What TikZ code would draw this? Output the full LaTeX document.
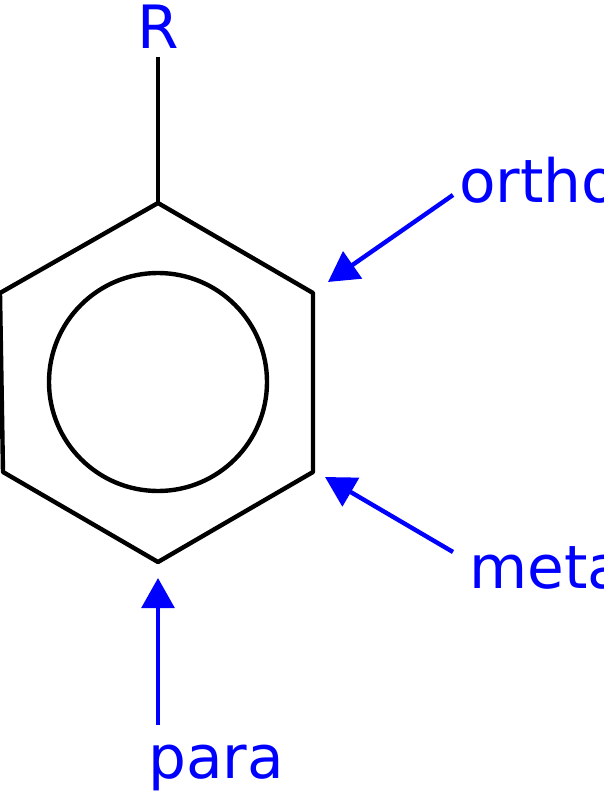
\documentclass[tikz,border=0pt]{standalone}
\usepackage{fontspec}
\setmainfont{DejaVu Sans}
\usetikzlibrary{arrows.meta}
\tikzset{
    ring/.style={line width=2.5pt, line join=round},
    pointer/.style={draw=blue, line width=2.5pt, -{Triangle[length=0.6cm,width=0.65cm]}},
    tag/.style={text=blue, font=\fontsize{34}{38}\selectfont, inner sep=0pt},
    }
\begin{document}
\begin{tikzpicture}[x=0.02cm,y=-0.02cm]
            \clip (0,0) rectangle (604,800);
            % ring corners
            \coordinate (c1) at (158,203);
            \coordinate (c2) at (313,293);
            \coordinate (c3) at (313,472);
            \coordinate (c4) at (158,562);
            \coordinate (c5) at (3,472);
            \coordinate (c6) at (0,293);
            \coordinate (rbase) at (158,57);
            \draw[ring] (c1) -- (c2) -- (c3) -- (c4) -- (c5) -- (c6) -- cycle;
            \draw[ring] (158,382) circle (109);
            \draw[ring] (rbase) -- (c1);

            \node[tag] (R) at (158,27) {R};
            \node[tag, anchor=west] (ortho) at (459,180) {ortho};
            \node[tag, anchor=west] (meta) at (469,568) {meta};
            \node[tag] (para) at (216,768) {para};

            \coordinate (ofrom) at (453,195);
            \coordinate (oto) at (328,282);
            \coordinate (mfrom) at (453,552);
            \coordinate (mto) at (325,477);
            \coordinate (pfrom) at (158,725);
            \coordinate (pto) at (158,578);
            \draw[pointer] (ofrom) -- (oto);
            \draw[pointer] (mfrom) -- (mto);
            \draw[pointer] (pfrom) -- (pto);
        \end{tikzpicture}
\end{document}
